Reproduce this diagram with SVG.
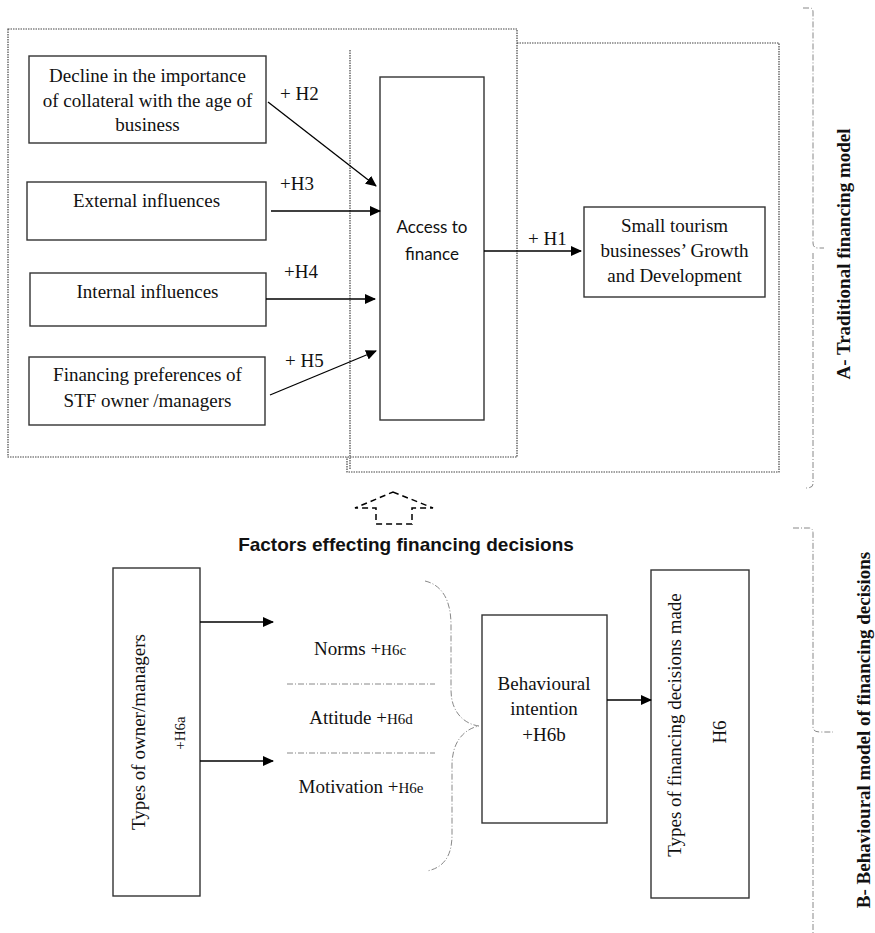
<svg xmlns="http://www.w3.org/2000/svg" width="875" height="933" viewBox="0 0 875 933">
<defs>
<marker id="ah" markerUnits="userSpaceOnUse" markerWidth="11" markerHeight="10" refX="10" refY="5" orient="auto">
<path d="M0,0 L11,5 L0,10 z" fill="#000"/>
</marker>
<style>
.bx{fill:#fff;stroke:#333;stroke-width:1.4}
.t{font-family:"Liberation Serif","Times New Roman",serif;font-size:19px;fill:#111;text-anchor:middle}
.lb{font-family:"Liberation Serif","Times New Roman",serif;font-size:19px;fill:#111}
.sm{font-size:15px}
.sans{font-family:Lato,"Open Sans",sans-serif;font-size:17px;fill:#111;text-anchor:middle}
.side{font-family:"Liberation Serif","Times New Roman",serif;font-size:19px;font-weight:bold;fill:#111;text-anchor:middle}
.dot{fill:none;stroke:#444;stroke-width:1.2;stroke-dasharray:1.5 1}
.dd{fill:none;stroke:#888;stroke-width:1;stroke-dasharray:6 2 1 2}
.cn{fill:none;stroke:#000;stroke-width:1.3;marker-end:url(#ah)}
</style>
</defs>

<g id="frames">
<path class="dot" d="M517,43 L779,43 L779,472 L347,472 L347,457"/>
<rect class="dot" x="8" y="29" width="509" height="428"/>
<line class="dot" x1="350" y1="50" x2="350" y2="470" stroke="#888"/>
</g>

<g id="brace-a">
<path class="dd" d="M803,8 L810,8 Q813,8 813,12 L813,243 Q813,248 818,248 L824,248 M813,253 L813,484 Q813,488 806,488"/>
<text class="side" transform="translate(850,254) rotate(-90)">A- Traditional financing model</text>
</g>

<g id="brace-b">
<path class="dd" d="M793,528 L809,528 Q813,528 813,533 L813,727 Q813,732 820,732 L833,732 M813,737 L813,933"/>
<text class="side" transform="translate(870,730) rotate(-90)">B- Behavioural model of financing decisions</text>
</g>

<g id="n-decline">
<rect class="bx" x="29" y="56" width="237" height="87"/>
<text class="t" x="147.5" y="82">Decline in the importance</text>
<text class="t" x="147.5" y="107">of collateral with the age of</text>
<text class="t" x="147.5" y="131">business</text>
</g>

<g id="n-external">
<rect class="bx" x="27" y="182" width="239" height="58"/>
<text class="t" x="146.5" y="207">External influences</text>
</g>

<g id="n-internal">
<rect class="bx" x="30" y="273" width="236" height="53"/>
<text class="t" x="147.5" y="298">Internal influences</text>
</g>

<g id="n-preferences">
<rect class="bx" x="29" y="357" width="236" height="68"/>
<text class="t" x="147.5" y="381">Financing preferences of</text>
<text class="t" x="147.5" y="407">STF owner /managers</text>
</g>

<g id="n-access">
<rect class="bx" x="380" y="77" width="104" height="343"/>
<text class="sans" x="432" y="233">Access to</text>
<text class="sans" x="432" y="260">finance</text>
</g>

<g id="n-growth">
<rect class="bx" x="584" y="207" width="181" height="90"/>
<text class="t" x="674.5" y="232">Small tourism</text>
<text class="t" x="674.5" y="257">businesses’ Growth</text>
<text class="t" x="674.5" y="282">and Development</text>
</g>

<g id="n-factors">
<path d="M393,492 L433,508 L412,508 L412,524 L376,524 L376,508 L355,508 Z" fill="none" stroke="#000" stroke-width="1.5" stroke-dasharray="6 4"/>
<text x="406" y="551" font-family="Liberation Sans,Arial,sans-serif" font-size="19" font-weight="bold" fill="#111" text-anchor="middle">Factors effecting financing decisions</text>
</g>

<g id="n-types-owner">
<rect class="bx" x="113" y="568" width="87" height="328"/>
<text class="t" transform="translate(144.5,732) rotate(-90)">Types of owner/managers</text>
<text class="t sm" transform="translate(185,733) rotate(-90)">+H6a</text>
</g>

<g id="n-factors-list">
<text class="t" x="360" y="655">Norms +<tspan class="sm">H6c</tspan></text>
<line class="dd" x1="287" y1="684" x2="435" y2="684"/>
<text class="t" x="361" y="724">Attitude +<tspan class="sm">H6d</tspan></text>
<line class="dd" x1="287" y1="753" x2="435" y2="753"/>
<text class="t" x="361" y="793">Motivation +<tspan class="sm">H6e</tspan></text>
<path class="dd" stroke="#555" d="M425,581 C442,585 451,600 451,625 L451,690 C451,712 464,724 479,726 C464,729 452,742 452,765 L452,835 C452,858 442,868 427,871"/>
</g>

<g id="n-intention">
<rect class="bx" x="482" y="615" width="125" height="208"/>
<text class="t" x="544" y="690">Behavioural</text>
<text class="t" x="544" y="715">intention</text>
<text class="t" x="544" y="741" font-size="16">+H6b</text>
</g>

<g id="n-decisions">
<rect class="bx" x="651" y="570" width="98" height="328"/>
<text class="t" transform="translate(681,725) rotate(-90)">Types of financing decisions made</text>
<text class="t" transform="translate(726,732) rotate(-90)">H6</text>
</g>

<g id="connectors">
<line class="cn" x1="268" y1="102" x2="376" y2="186"/>
<line class="cn" x1="271" y1="211" x2="380" y2="211"/>
<line class="cn" x1="266" y1="299" x2="375" y2="299"/>
<line class="cn" x1="270" y1="395" x2="376" y2="351"/>
<line class="cn" x1="484" y1="251" x2="581" y2="251"/>
<line class="cn" x1="200" y1="622" x2="273" y2="622"/>
<line class="cn" x1="200" y1="761" x2="273" y2="761"/>
<line class="cn" x1="607" y1="700" x2="651" y2="700"/>
<text class="lb" x="280" y="100">+ H2</text>
<text class="lb" x="280" y="190">+H3</text>
<text class="lb" x="284" y="278">+H4</text>
<text class="lb" x="285" y="367">+ H5</text>
<text class="lb" x="528" y="245">+ H1</text>
</g>
</svg>
